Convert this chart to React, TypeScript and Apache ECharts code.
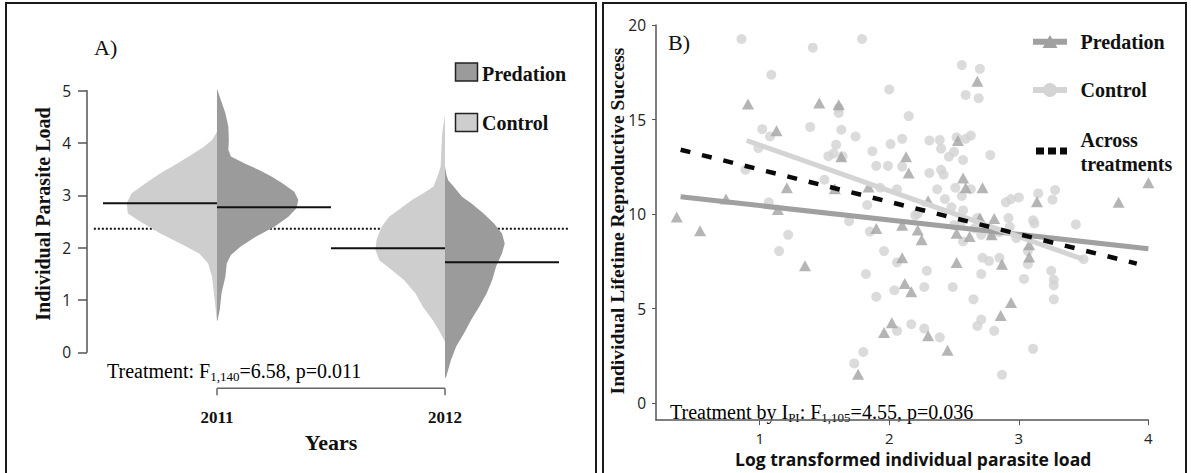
import React, { useEffect, useRef } from 'react';
import * as echarts from 'echarts';

const SERIF = '"Liberation Serif", "Times New Roman", serif';
const SANS = '"Open Sans", "DejaVu Sans", sans-serif';

const LIGHT = '#cecece';
const DARK = '#9b9b9b';
const AXIS = '#555555';

// ---------- Panel A: split violins of parasite load per year ----------
const years = ['2011', '2012'];
const yearPos = [1, 2];
const controlMeans = [2.85, 1.99];
const predationMeans = [2.77, 1.72];
const grandMean = 2.36;
const grandMeanSpan = [0.46, 2.544];

// [parasite load, half width of the density outline]
const control2011: [number, number][] = [
  [4.22, 0], [4.18, 0.004], [4.06, 0.022], [3.93, 0.057], [3.77, 0.113], [3.61, 0.174],
  [3.42, 0.248], [3.23, 0.313], [3.04, 0.374], [2.85, 0.396], [2.66, 0.391], [2.53, 0.348],
  [2.27, 0.248], [2.05, 0.148], [1.89, 0.078], [1.7, 0.039], [1.45, 0.022], [1.0, 0.01], [0.59, 0],
];
const predation2011: [number, number][] = [
  [5.04, 0], [4.82, 0.017], [4.57, 0.037], [4.31, 0.05], [4.06, 0.052], [3.87, 0.05],
  [3.74, 0.061], [3.61, 0.122], [3.48, 0.187], [3.36, 0.239], [3.23, 0.287], [3.07, 0.339],
  [2.91, 0.357], [2.75, 0.348], [2.59, 0.313], [2.4, 0.252], [2.21, 0.17], [2.02, 0.104],
  [1.86, 0.061], [1.7, 0.043], [1.45, 0.037], [1.13, 0.02], [0.81, 0.012], [0.62, 0.003], [0.59, 0],
];
const control2012: [number, number][] = [
  [4.54, 0], [4.19, 0.012], [3.87, 0.016], [3.55, 0.019], [3.36, 0.033], [3.17, 0.05],
  [3.04, 0.095], [2.91, 0.145], [2.75, 0.195], [2.59, 0.245], [2.4, 0.278], [2.15, 0.3],
  [1.96, 0.305], [1.76, 0.288], [1.57, 0.232], [1.38, 0.18], [1.13, 0.13], [0.87, 0.097],
  [0.62, 0.055], [0.43, 0.028], [0.3, 0.012], [0.2, 0],
];
const predation2012: [number, number][] = [
  [3.55, 0], [3.4, 0.006], [3.29, 0.014], [3.17, 0.038], [3.04, 0.062], [2.97, 0.076],
  [2.85, 0.115], [2.66, 0.168], [2.46, 0.215], [2.27, 0.25], [2.08, 0.262], [1.89, 0.25],
  [1.64, 0.224], [1.38, 0.207], [1.13, 0.183], [0.87, 0.15], [0.62, 0.115], [0.36, 0.083],
  [0.11, 0.049], [-0.15, 0.026], [-0.46, 0.006], [-0.5, 0],
];
const yTicksA = [0, 1, 2, 3, 4, 5];

// ---------- Panel B: reproductive success vs. log parasite load ----------
const controlPoints: [number, number][] = [
  [0.86, 19.26], [1.41, 18.8], [1.79, 19.26], [1.09, 17.37], [1.02, 14.49], [0.99, 13.49],
  [1.08, 14.1], [1.39, 14.61], [0.89, 12.34], [1.61, 15.61], [1.61, 15.35], [1.63, 14.46],
  [1.74, 14.1], [1.59, 13.67], [1.53, 13.06], [1.57, 13.2], [1.64, 13.06], [1.5, 11.82],
  [1.87, 13.32], [1.9, 12.55], [1.99, 12.55], [2.01, 13.7], [2.0, 16.59], [2.1, 13.98],
  [2.15, 15.18], [2.1, 12.51], [2.06, 11.31], [1.93, 11.39], [1.83, 10.48], [1.69, 9.62],
  [1.85, 9.07], [1.22, 8.9], [1.15, 8.04], [1.07, 10.62], [1.82, 6.83], [1.96, 8.04],
  [2.06, 7.44], [1.9, 5.63], [2.04, 5.97], [2.06, 3.82], [1.73, 2.1], [1.8, 2.7],
  [2.17, 4.17], [2.27, 3.94], [2.39, 3.48], [2.27, 6.14], [2.29, 7.0], [2.22, 10.02],
  [2.31, 13.89], [2.31, 12.17], [2.39, 13.92], [2.4, 13.46], [2.4, 12.34], [2.42, 12.08],
  [2.37, 11.31], [2.43, 10.79], [2.48, 10.36], [2.46, 13.03], [2.5, 13.29], [2.52, 14.06],
  [2.56, 17.88], [2.59, 16.3], [2.57, 12.86], [2.57, 10.19], [2.51, 11.39], [2.59, 13.98],
  [2.63, 14.15], [2.7, 17.68], [2.69, 16.13], [2.78, 13.12], [2.68, 9.79], [2.55, 9.41],
  [2.49, 6.14], [2.57, 8.55], [2.65, 5.49], [2.71, 6.83], [2.72, 7.69], [2.77, 7.52],
  [2.68, 4.08], [2.71, 4.42], [2.81, 3.82], [2.87, 1.5], [2.85, 7.69], [2.9, 10.62],
  [2.92, 9.79], [2.94, 10.79], [3.0, 10.88], [2.93, 9.33], [2.98, 8.73], [3.07, 8.04],
  [3.04, 6.57], [3.11, 9.67], [3.12, 9.5], [3.15, 11.09], [3.28, 11.27], [3.26, 10.76],
  [3.25, 7.0], [3.27, 6.52], [3.27, 6.23], [3.27, 5.49], [3.44, 9.45], [3.5, 7.61],
  [3.11, 2.87], [3.07, 7.35], [2.85, 9.04], [2.79, 8.9], [2.71, 8.9], [2.66, 9.24],
  [2.5, 9.41], [2.63, 11.31], [2.56, 10.96], [2.2, 9.93],
];
const predationPoints: [number, number][] = [
  [0.36, 9.85], [0.54, 9.12], [0.74, 10.79], [0.91, 15.82], [1.13, 14.41], [1.14, 10.24],
  [1.35, 7.26], [1.21, 11.39], [1.46, 15.87], [1.61, 15.78], [1.63, 13.03], [1.58, 11.34],
  [1.84, 11.43], [1.9, 9.24], [1.96, 3.73], [2.02, 4.25], [1.76, 1.53], [2.1, 7.69],
  [2.12, 6.32], [2.17, 5.89], [2.1, 9.41], [2.13, 13.03], [2.15, 12.17], [2.22, 9.16],
  [2.25, 8.64], [2.3, 3.56], [2.3, 10.7], [2.45, 2.79], [2.52, 7.44], [2.52, 8.99],
  [2.53, 13.89], [2.57, 11.91], [2.59, 11.39], [2.62, 8.81], [2.68, 17.02], [2.72, 11.39],
  [2.7, 9.79], [2.79, 8.9], [2.81, 9.76], [2.86, 4.63], [2.87, 7.35], [2.94, 5.32],
  [3.08, 8.38], [3.08, 7.73], [3.14, 10.65], [3.77, 10.62], [4.0, 11.65],
];
const predationFit: [number, number][] = [[0.39, 10.91], [4.0, 8.16]];
const controlFit: [number, number][] = [[0.9, 13.89], [3.5, 7.6]];
const acrossFit: [number, number][] = [[0.39, 13.4], [3.91, 7.38]];
const xTicksB = [1, 2, 3, 4];
const yTicksB = [0, 5, 10, 15, 20];

const halfViolin = (profile: [number, number][], center: number, side: number, color: string) => ({
  type: 'custom',
  xAxisIndex: 0,
  yAxisIndex: 0,
  clip: false,
  silent: true,
  z: 2,
  data: [[center, profile[0][0]]],
  renderItem: (_p: any, api: any) => {
    const pts: number[][] = [api.coord([center, profile[0][0]])];
    profile.forEach(([y, w]) => pts.push(api.coord([center + side * w, y])));
    pts.push(api.coord([center, profile[profile.length - 1][0]]));
    return { type: 'polygon', shape: { points: pts }, style: { fill: color, stroke: null } };
  },
});

const meanSeries = (means: number[], side: number) => ({
  type: 'custom',
  xAxisIndex: 0,
  yAxisIndex: 0,
  clip: false,
  silent: true,
  z: 4,
  data: means.map((m, i) => [yearPos[i], m]),
  renderItem: (_p: any, api: any) => {
    const x = api.value(0);
    const y = api.value(1);
    const a = api.coord([x, y]);
    const b = api.coord([x + side * 0.5, y]);
    return {
      type: 'line',
      shape: { x1: a[0], y1: a[1], x2: b[0], y2: b[1] },
      style: { stroke: '#111', lineWidth: 2 },
    };
  },
});

// R-style year axis: a bracket running from the first to the last year, with downward ticks
const yearBracket = {
  type: 'custom',
  xAxisIndex: 1,
  yAxisIndex: 1,
  clip: false,
  silent: true,
  data: years.map((_, i) => [i, 0]),
  renderItem: (params: any, api: any) => {
    const i = params.dataIndex;
    const p = api.coord([i, 0]);
    const style = { stroke: '#666666', lineWidth: 1.5 };
    const children: any[] = [
      { type: 'line', shape: { x1: p[0], y1: p[1], x2: p[0], y2: p[1] + 7 }, style },
    ];
    if (i < years.length - 1) {
      const q = api.coord([i + 1, 0]);
      children.push({ type: 'line', shape: { x1: p[0], y1: p[1], x2: q[0], y2: q[1] }, style });
    }
    return { type: 'group', children };
  },
};

const richSub = (main: number, sub: number) => ({
  m: { fontSize: main, fontFamily: SERIF, color: '#111', lineHeight: main + 4 },
  s: { fontSize: sub, fontFamily: SERIF, color: '#111', lineHeight: sub, verticalAlign: 'bottom' },
});

const legendText = (text: string, x: number, y: number) => ({
  type: 'text',
  x,
  y,
  style: { text, font: `bold 20px ${SERIF}`, fill: '#111', verticalAlign: 'middle', align: 'left' },
});

export default function App() {
  const ref = useRef<HTMLDivElement>(null);

  useEffect(() => {
    const chart = echarts.init(ref.current!, null, { renderer: 'svg' });
    const option: any = {
      animation: false,
      backgroundColor: '#ffffff',
      grid: [
        { left: 87, top: 90.7, width: 494.8, height: 261.6 },
        { left: 217, top: 380, width: 228, height: 8.3 },
        { left: 656, top: 25, width: 492.4, height: 405 },
      ],
      xAxis: [
        { gridIndex: 0, type: 'value', min: 0.43, max: 2.6, show: false },
        {
          gridIndex: 1,
          type: 'category',
          data: years,
          boundaryGap: false,
          axisLine: { show: false },
          axisTick: { show: false },
          axisLabel: { margin: 21, fontFamily: SERIF, fontWeight: 'bold', fontSize: 17, color: '#111' },
          name: 'Years',
          nameLocation: 'middle',
          nameGap: 43,
          nameTextStyle: { fontFamily: SERIF, fontWeight: 'bold', fontSize: 22, color: '#111' },
        },
        {
          gridIndex: 2,
          type: 'value',
          min: 0.2,
          max: 4,
          splitLine: { show: false },
          axisLine: { onZero: false, lineStyle: { color: AXIS, width: 1.5 } },
          axisTick: { customValues: xTicksB, length: 5, lineStyle: { color: AXIS } },
          axisLabel: { customValues: xTicksB, margin: 10, fontFamily: SANS, fontSize: 15, color: '#222' },
          name: 'Log transformed individual parasite load',
          nameLocation: 'middle',
          nameGap: 26,
          nameTextStyle: { fontFamily: SANS, fontWeight: 'bold', fontSize: 17.5, color: '#111', padding: [0, 0, 0, 22] },
        },
      ],
      yAxis: [
        {
          gridIndex: 0,
          type: 'value',
          min: 0,
          max: 5,
          interval: 1,
          splitLine: { show: false },
          axisLine: { show: true, onZero: false, lineStyle: { color: AXIS, width: 1.5 } },
          axisTick: { show: true, length: 9, lineStyle: { color: AXIS, width: 1.5 } },
          axisLabel: { customValues: yTicksA, margin: 16, fontFamily: SANS, fontSize: 15.5, color: '#222' },
        },
        { gridIndex: 1, type: 'value', min: 0, max: 1, show: false },
        {
          gridIndex: 2,
          type: 'value',
          min: -0.9,
          max: 20,
          splitLine: { show: false },
          axisLine: { show: true, onZero: false, lineStyle: { color: AXIS, width: 1.5 } },
          axisTick: { show: true, customValues: yTicksB, length: 4, lineStyle: { color: AXIS } },
          axisLabel: { customValues: yTicksB, margin: 10, fontFamily: SANS, fontSize: 15.5, color: '#222' },
        },
      ],
      series: [
        {
          type: 'line',
          xAxisIndex: 0,
          yAxisIndex: 0,
          z: 1,
          symbol: 'none',
          silent: true,
          data: grandMeanSpan.map((x) => [x, grandMean]),
          lineStyle: { color: '#111', width: 2, type: [2, 2] },
        },
        halfViolin(control2011, yearPos[0], -1, LIGHT),
        halfViolin(predation2011, yearPos[0], 1, DARK),
        halfViolin(control2012, yearPos[1], -1, LIGHT),
        halfViolin(predation2012, yearPos[1], 1, DARK),
        meanSeries(controlMeans, -1),
        meanSeries(predationMeans, 1),
        yearBracket,
        {
          name: 'Control',
          type: 'scatter',
          xAxisIndex: 2,
          yAxisIndex: 2,
          symbol: 'circle',
          symbolSize: 10,
          clip: false,
          silent: true,
          itemStyle: { color: '#d2d2d2' },
          data: controlPoints,
          z: 2,
        },
        {
          name: 'Predation',
          type: 'scatter',
          xAxisIndex: 2,
          yAxisIndex: 2,
          symbol: 'triangle',
          symbolSize: [12, 11],
          clip: false,
          silent: true,
          itemStyle: { color: '#a3a3a3' },
          data: predationPoints,
          z: 3,
        },
        {
          type: 'line',
          xAxisIndex: 2,
          yAxisIndex: 2,
          symbol: 'none',
          silent: true,
          z: 4,
          data: predationFit,
          lineStyle: { color: '#a0a0a0', width: 5 },
        },
        {
          type: 'line',
          xAxisIndex: 2,
          yAxisIndex: 2,
          symbol: 'none',
          silent: true,
          z: 4,
          data: controlFit,
          lineStyle: { color: '#d4d4d4', width: 5 },
        },
        {
          type: 'line',
          xAxisIndex: 2,
          yAxisIndex: 2,
          symbol: 'none',
          silent: true,
          z: 5,
          data: acrossFit,
          lineStyle: { color: '#0a0a0a', width: 4.5, type: [10, 12] },
        },
      ],
      graphic: [
        // panel frames
        { type: 'rect', shape: { x: 6, y: 3, width: 590, height: 490 }, style: { fill: 'none', stroke: '#1a1a1a', lineWidth: 2 }, z: 0 },
        { type: 'rect', shape: { x: 603, y: 3, width: 583, height: 490 }, style: { fill: 'none', stroke: '#1a1a1a', lineWidth: 2 }, z: 0 },
        // panel A annotations
        { type: 'text', x: 94, y: 47, style: { text: 'A)', font: `22px ${SERIF}`, fill: '#111', verticalAlign: 'middle' } },
        {
          type: 'text',
          x: 43,
          y: 214,
          rotation: Math.PI / 2,
          style: { text: 'Individual Parasite Load', font: `bold 20px ${SERIF}`, fill: '#111', align: 'center', verticalAlign: 'middle' },
        },
        { type: 'rect', shape: { x: 455.5, y: 63, width: 22, height: 18 }, style: { fill: DARK, stroke: '#222', lineWidth: 1.5 } },
        { type: 'rect', shape: { x: 455.5, y: 113.5, width: 22, height: 18 }, style: { fill: LIGHT, stroke: '#222', lineWidth: 1.5 } },
        legendText('Predation', 482, 73.5),
        legendText('Control', 482, 123),
        {
          type: 'text',
          x: 107,
          y: 371,
          style: {
            text: '{m|Treatment: F}{s|1,140}{m|=6.58, p=0.011}',
            rich: richSub(20, 13),
            verticalAlign: 'middle',
          },
        },
        // panel B annotations
        { type: 'text', x: 668, y: 42, style: { text: 'B)', font: `22px ${SERIF}`, fill: '#111', verticalAlign: 'middle' } },
        {
          type: 'text',
          x: 617,
          y: 221,
          rotation: Math.PI / 2,
          style: { text: 'Individual Lifetime Reproductive Success', font: `bold 19.5px ${SERIF}`, fill: '#111', align: 'center', verticalAlign: 'middle' },
        },
        { type: 'line', shape: { x1: 1033, y1: 41.7, x2: 1067, y2: 41.7 }, style: { stroke: '#a0a0a0', lineWidth: 6 } },
        { type: 'polygon', shape: { points: [[1050, 35], [1057.5, 48], [1042.5, 48]] }, style: { fill: '#a0a0a0' } },
        { type: 'line', shape: { x1: 1033, y1: 90, x2: 1067, y2: 90 }, style: { stroke: '#d4d4d4', lineWidth: 6 } },
        { type: 'circle', shape: { cx: 1050, cy: 90, r: 7 }, style: { fill: '#d4d4d4' } },
        { type: 'line', shape: { x1: 1036, y1: 151, x2: 1067, y2: 151 }, style: { stroke: '#0a0a0a', lineWidth: 7, lineDash: [8, 4] } },
        legendText('Predation', 1080.5, 42),
        legendText('Control', 1080.5, 90),
        legendText('Across', 1080.5, 140),
        legendText('treatments', 1080.5, 163.5),
        {
          type: 'text',
          x: 670,
          y: 412,
          style: {
            text: '{m|Treatment by I}{s|PI}{m|: F}{s|1,105}{m|=4.55, p=0.036}',
            rich: richSub(20, 13),
            verticalAlign: 'middle',
          },
        },
      ],
    };
    chart.setOption(option);
    return () => chart.dispose();
  }, []);

  return (
    <div
      ref={ref}
      style={{ position: 'fixed', left: 0, top: 0, width: 1191, height: 473, background: '#ffffff' }}
    />
  );
}
